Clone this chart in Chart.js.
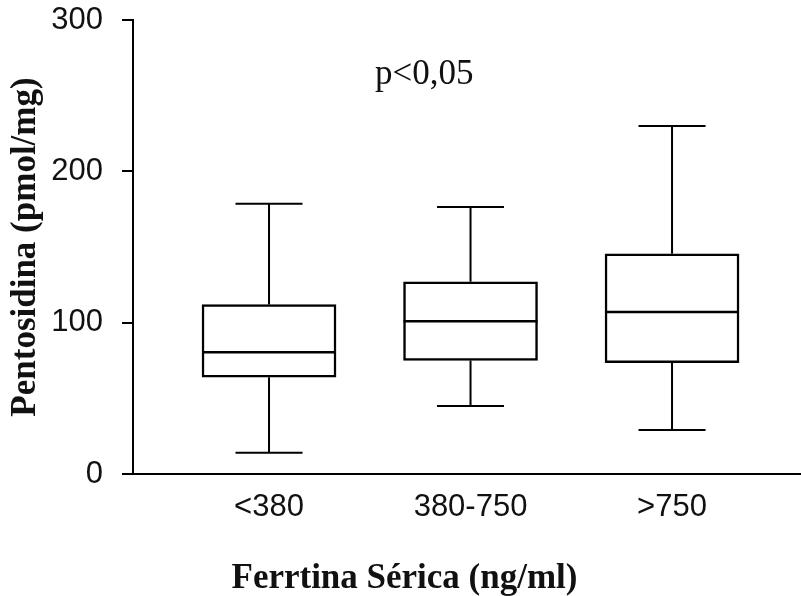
<!DOCTYPE html>
<html>
<head>
<meta charset="utf-8">
<script src="https://cdn.jsdelivr.net/npm/chart.js@4"></script>
<style>
  html, body { margin: 0; padding: 0; background: #fff; }
  #wrap { width: 801px; height: 596px; }
</style>
</head>
<body>
<div id="wrap"><canvas id="boxChart"></canvas></div>
<script>
// ferritin groups and pentosidine five-number summaries
var categories = ['<380', '380-750', '>750'];
var mins    = [14, 45, 29];
var q1s     = [64, 75, 73.5];
var medians = [80.5, 101, 107];
var q3s     = [112, 127, 145.5];
var maxs    = [178.5, 176.5, 230];
var yTicks  = [0, 100, 200, 300];

var BOX_W = 134;

var positions = categories.map(function (c, i) { return i + 1; });

// whiskers, caps and median lines on top of the floating bars
var boxLines = {
    id: 'boxLines',
    afterDatasetsDraw: function (chart) {
        var ctx = chart.ctx;
        var xs = chart.scales.x, ys = chart.scales.y;
        ctx.save();
        ctx.strokeStyle = '#000';
        ctx.lineCap = 'butt';
        positions.forEach(function (p, i) {
            var cx = xs.getPixelForValue(p);
            var half = BOX_W / 2;
            var cap = BOX_W / 4;
            ctx.lineWidth = 2;
            ctx.beginPath();
            ctx.moveTo(cx, ys.getPixelForValue(q3s[i]));
            ctx.lineTo(cx, ys.getPixelForValue(maxs[i]));
            ctx.moveTo(cx - cap, ys.getPixelForValue(maxs[i]));
            ctx.lineTo(cx + cap, ys.getPixelForValue(maxs[i]));
            ctx.moveTo(cx, ys.getPixelForValue(q1s[i]));
            ctx.lineTo(cx, ys.getPixelForValue(mins[i]));
            ctx.moveTo(cx - cap, ys.getPixelForValue(mins[i]));
            ctx.lineTo(cx + cap, ys.getPixelForValue(mins[i]));
            ctx.stroke();
            ctx.lineWidth = 2.5;
            ctx.beginPath();
            ctx.moveTo(cx - half, ys.getPixelForValue(medians[i]));
            ctx.lineTo(cx + half, ys.getPixelForValue(medians[i]));
            ctx.stroke();
        });
        // significance note
        ctx.fillStyle = '#111';
        ctx.font = '35px "Liberation Serif", "Times New Roman", serif';
        ctx.textAlign = 'center';
        ctx.textBaseline = 'alphabetic';
        ctx.fillText('p<0,05', xs.getPixelForValue(1.77), ys.getPixelForValue(258));
        ctx.restore();
    }
};

document.addEventListener('DOMContentLoaded', function () {
    var ctx = document.getElementById('boxChart').getContext('2d');
    var boxChart = new Chart(ctx, {
        type: 'bar',
        data: {
            datasets: [{
                label: 'Pentosidina',
                data: positions.map(function (p, i) { return { x: p, y: [q1s[i], q3s[i]] }; }),
                backgroundColor: '#fff',
                borderColor: '#000',
                borderWidth: 2.5,
                borderSkipped: false,
                barThickness: BOX_W
            }]
        },
        plugins: [boxLines],
        options: {
            responsive: true,
            maintainAspectRatio: false,
            animation: false,
            layout: { padding: { left: 8, top: 20, right: 0, bottom: 0 } },
            plugins: {
                legend: { display: false },
                tooltip: { enabled: false },
                title: {
                    display: true,
                    position: 'bottom',
                    text: 'Ferrtina Sérica (ng/ml)',
                    color: '#111',
                    font: { family: '"Liberation Serif", "Times New Roman", serif', size: 35, weight: 'bold', lineHeight: 1 },
                    padding: { top: 0, bottom: 0 }
                }
            },
            scales: {
                x: {
                    type: 'linear',
                    offset: false,
                    min: 0.325,
                    max: 3.64,
                    afterBuildTicks: function (scale) {
                        scale.ticks = positions.map(function (p) { return { value: p }; });
                    },
                    afterFit: function (scale) { scale.height = 87; },
                    grid: { display: false, drawTicks: false },
                    border: { display: true, color: '#000', width: 2 },
                    ticks: {
                        color: '#111',
                        padding: 15,
                        maxRotation: 0,
                        font: { family: '"Liberation Sans", Arial, sans-serif', size: 31 },
                        callback: function (v) { return categories[v - 1]; }
                    }
                },
                y: {
                    min: 0,
                    max: 300,
                    afterBuildTicks: function (scale) {
                        scale.ticks = yTicks.map(function (v) { return { value: v }; });
                    },
                    afterFit: function (scale) {
                        scale.width = 125;
                        scale.paddingTop = 0;
                        scale.paddingBottom = 0;
                    },
                    grid: { drawOnChartArea: false, drawTicks: true, tickLength: 11, color: '#000', lineWidth: 2 },
                    border: { display: true, color: '#000', width: 2 },
                    ticks: {
                        color: '#111',
                        padding: 19,
                        font: { family: '"Liberation Sans", Arial, sans-serif', size: 31 }
                    },
                    title: {
                        display: true,
                        text: 'Pentosidina (pmol/mg)',
                        color: '#111',
                        font: { family: '"Liberation Serif", "Times New Roman", serif', size: 35, weight: 'bold', lineHeight: 1 },
                        padding: { top: 0, bottom: 0 }
                    }
                }
            }
        }
    });
});
</script>
</body>
</html>
